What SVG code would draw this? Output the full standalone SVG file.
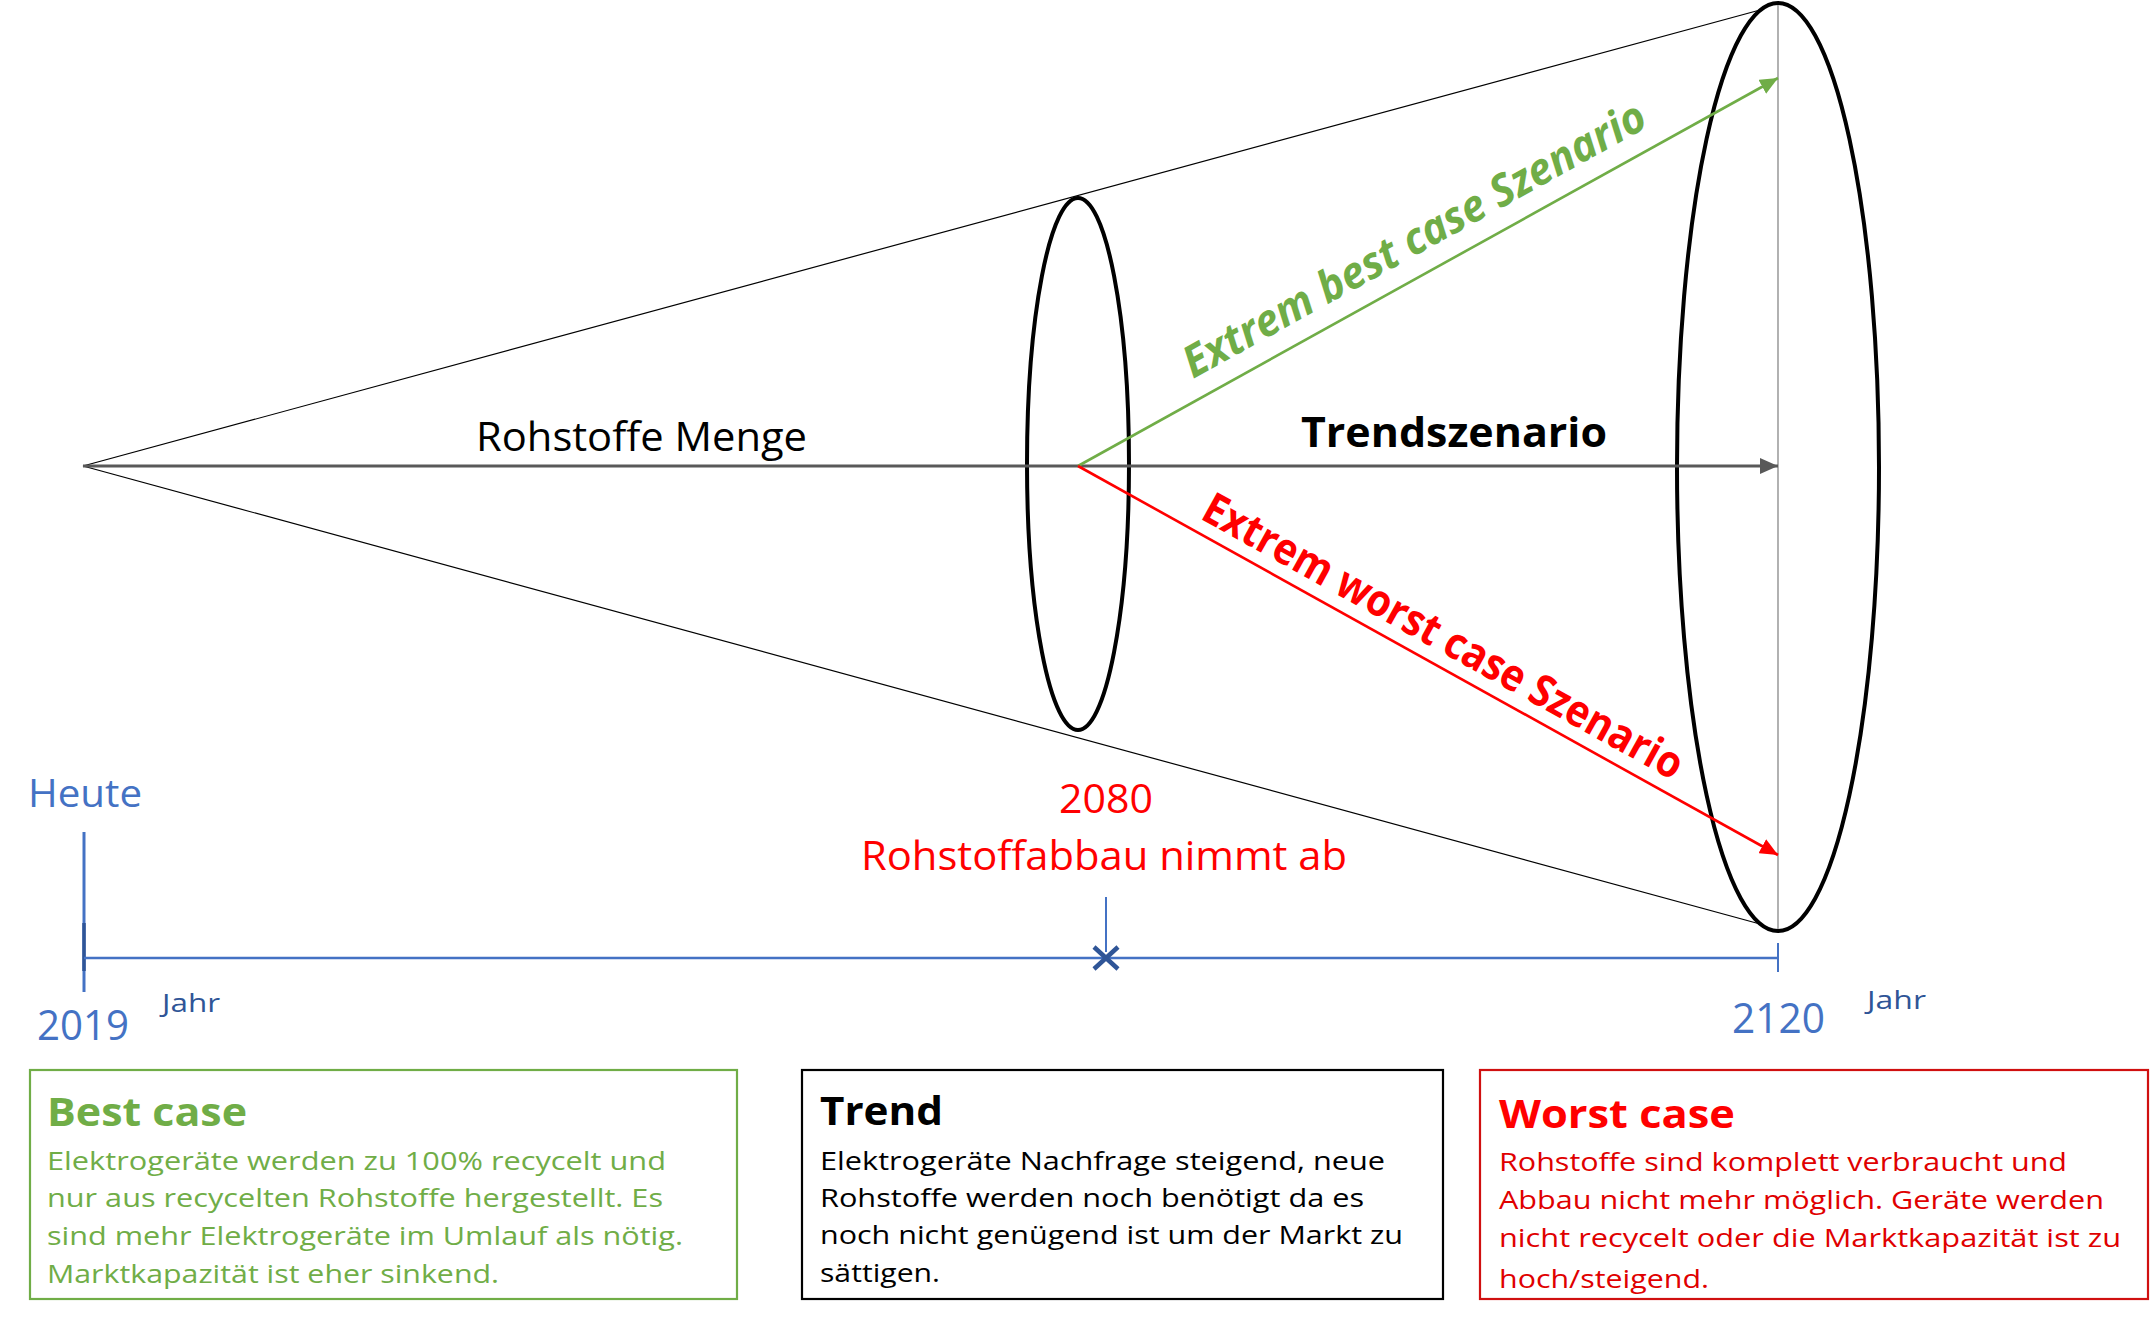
<svg xmlns="http://www.w3.org/2000/svg" width="2151" height="1317" viewBox="0 0 2151 1317">
<style>
text{font-family:"Open Sans","Liberation Sans",sans-serif}
.b{font-weight:bold}
.cone{stroke:#000;stroke-width:1.2;fill:none}
.ell{stroke:#000;stroke-width:4;fill:none}
.blue{fill:#4472C4}
.dblue{fill:#2F5597}
.body{font-size:26px}
.ttl{font-size:40px;font-weight:bold}
</style>
<defs>
<marker id="ag" markerUnits="userSpaceOnUse" markerWidth="18" markerHeight="16" refX="18" refY="8" orient="auto"><path d="M0,0 L18,8 L0,16 z" fill="#595959"/></marker>
<marker id="agr" markerUnits="userSpaceOnUse" markerWidth="18" markerHeight="16" refX="18" refY="8" orient="auto"><path d="M0,0 L18,8 L0,16 z" fill="#70AD47"/></marker>
<marker id="ar" markerUnits="userSpaceOnUse" markerWidth="18" markerHeight="16" refX="18" refY="8" orient="auto"><path d="M0,0 L18,8 L0,16 z" fill="#FF0000"/></marker>
</defs>
<rect width="2151" height="1317" fill="#fff"/>

<g id="cone">
<line class="cone" x1="83" y1="466" x2="1760" y2="10"/>
<line class="cone" x1="83" y1="466" x2="1760" y2="924"/>
<line x1="1778" y1="3" x2="1778" y2="930" stroke="#888" stroke-width="1.3"/>
</g>

<g id="ellipse-2080"><ellipse class="ell" cx="1078" cy="464" rx="51" ry="266"/></g>
<g id="ellipse-2120"><ellipse class="ell" cx="1778" cy="467" rx="101" ry="464"/></g>

<g id="connectors">
<line x1="83" y1="466" x2="1778" y2="466" stroke="#595959" stroke-width="3.2" marker-end="url(#ag)"/>
<line x1="1078" y1="466" x2="1778" y2="78" stroke="#70AD47" stroke-width="2.6" marker-end="url(#agr)"/>
<line x1="1078" y1="466" x2="1778" y2="855" stroke="#FF0000" stroke-width="2.6" marker-end="url(#ar)"/>
</g>

<g id="labels">
<text x="476" y="451" font-size="40" fill="#000" textLength="331" lengthAdjust="spacingAndGlyphs">Rohstoffe Menge</text>
<text x="1301" y="447" font-size="41" class="b" fill="#000" textLength="306" lengthAdjust="spacingAndGlyphs">Trendszenario</text>
<text transform="translate(1193,379) rotate(-29)" font-size="44" class="b" font-style="italic" fill="#70AD47" textLength="522" lengthAdjust="spacingAndGlyphs">Extrem best case Szenario</text>
<text transform="translate(1199,518) rotate(29)" font-size="44" class="b" fill="#FF0000" textLength="542" lengthAdjust="spacingAndGlyphs">Extrem worst case Szenario</text>
</g>

<g id="timeline">
<line x1="84" y1="832" x2="84" y2="992" stroke="#4472C4" stroke-width="3"/>
<line x1="84" y1="923" x2="84" y2="971" stroke="#2F5597" stroke-width="3.5"/>
<line x1="84" y1="958" x2="1778" y2="958" stroke="#4472C4" stroke-width="2.5"/>
<line x1="1778" y1="943" x2="1778" y2="972" stroke="#4472C4" stroke-width="2"/>
<line x1="1106" y1="897" x2="1106" y2="952" stroke="#4472C4" stroke-width="2"/>
<path d="M1094,947 L1118,969 M1118,947 L1094,969" stroke="#2F5597" stroke-width="4.5"/>
<text x="28" y="807" font-size="39" class="blue" textLength="114" lengthAdjust="spacingAndGlyphs">Heute</text>
<text x="37" y="1040" font-size="42" class="blue" textLength="92" lengthAdjust="spacingAndGlyphs">2019</text>
<text x="162" y="1012" font-size="26" class="dblue" textLength="58" lengthAdjust="spacingAndGlyphs">Jahr</text>
<text x="1732" y="1033" font-size="42" class="blue" textLength="93" lengthAdjust="spacingAndGlyphs">2120</text>
<text x="1867" y="1009" font-size="26" class="dblue" textLength="59" lengthAdjust="spacingAndGlyphs">Jahr</text>
<text x="1059" y="813" font-size="41" fill="#FF0000" textLength="94" lengthAdjust="spacingAndGlyphs">2080</text>
<text x="861" y="870" font-size="41" fill="#FF0000" textLength="486" lengthAdjust="spacingAndGlyphs">Rohstoffabbau nimmt ab</text>
</g>

<g id="box-best">
<rect x="30" y="1070" width="707" height="229" fill="#fff" stroke="#70AD47" stroke-width="2.2"/>
<g fill="#70AD47">
<text x="47" y="1126" class="ttl" textLength="200" lengthAdjust="spacingAndGlyphs">Best case</text>
<text x="47" y="1170" class="body" textLength="619" lengthAdjust="spacingAndGlyphs">Elektrogeräte werden zu 100% recycelt und</text>
<text x="47" y="1207" class="body" textLength="616" lengthAdjust="spacingAndGlyphs">nur aus recycelten Rohstoffe hergestellt. Es</text>
<text x="47" y="1245" class="body" textLength="636" lengthAdjust="spacingAndGlyphs">sind mehr Elektrogeräte im Umlauf als nötig.</text>
<text x="47" y="1283" class="body" textLength="452" lengthAdjust="spacingAndGlyphs">Marktkapazität ist eher sinkend.</text>
</g>
</g>

<g id="box-trend">
<rect x="802" y="1070" width="641" height="229" fill="#fff" stroke="#000" stroke-width="2.2"/>
<g fill="#000">
<text x="820" y="1125" class="ttl" textLength="123" lengthAdjust="spacingAndGlyphs">Trend</text>
<text x="820" y="1170" class="body" textLength="565" lengthAdjust="spacingAndGlyphs">Elektrogeräte Nachfrage steigend, neue</text>
<text x="820" y="1207" class="body" textLength="544" lengthAdjust="spacingAndGlyphs">Rohstoffe werden noch benötigt da es</text>
<text x="820" y="1244" class="body" textLength="583" lengthAdjust="spacingAndGlyphs">noch nicht genügend ist um der Markt zu</text>
<text x="820" y="1282" class="body" textLength="120" lengthAdjust="spacingAndGlyphs">sättigen.</text>
</g>
</g>

<g id="box-worst">
<rect x="1480" y="1070" width="668" height="229" fill="#fff" stroke="#D01010" stroke-width="2.2"/>
<g fill="#FF0000">
<text x="1499" y="1128" class="ttl" textLength="236" lengthAdjust="spacingAndGlyphs">Worst case</text>
<text x="1499" y="1171" class="body" fill="#E00000" textLength="568" lengthAdjust="spacingAndGlyphs">Rohstoffe sind komplett verbraucht und</text>
<text x="1499" y="1209" class="body" fill="#E00000" textLength="605" lengthAdjust="spacingAndGlyphs">Abbau nicht mehr möglich. Geräte werden</text>
<text x="1499" y="1247" class="body" fill="#E00000" textLength="622" lengthAdjust="spacingAndGlyphs">nicht recycelt oder die Marktkapazität ist zu</text>
<text x="1499" y="1288" class="body" fill="#E00000" textLength="210" lengthAdjust="spacingAndGlyphs">hoch/steigend.</text>
</g>
</g>
</svg>
